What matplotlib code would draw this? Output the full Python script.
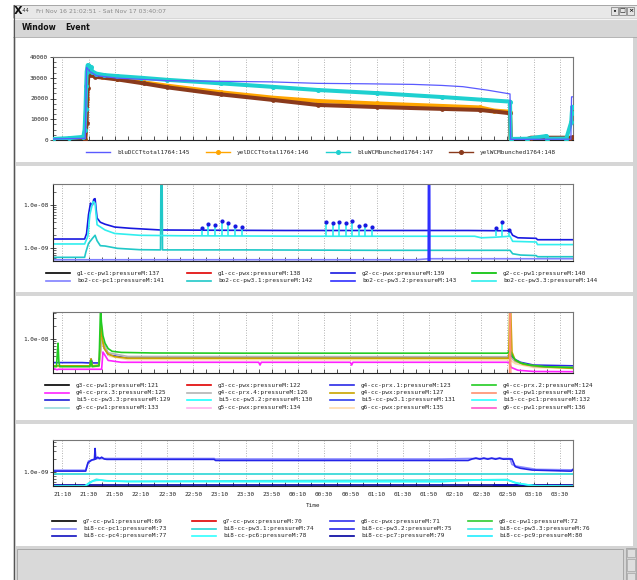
import numpy as np
import matplotlib
matplotlib.use('Agg')
import matplotlib.pyplot as plt
from matplotlib.patches import Rectangle
from matplotlib.lines import Line2D
from matplotlib.ticker import FixedLocator, FuncFormatter, LogLocator, NullFormatter, MultipleLocator

# time is in minutes after 21:00 on Nov 16
T0, T1 = 2.85, 400.12   # 21:02:51 .. 03:40:07

# ---- panel 1: beam intensity ----
p1_labels = ['bluDCCTtotal1764:145', 'yelDCCTtotal1764:146', 'bluWCMbunched1764:147', 'yelWCMbunched1764:148']
p1_colors = ['#5a5aff', '#ffa500', '#1ed0d0', '#8a3a1c']

blu_dcct_t = [2.85, 27.5, 28.5, 31, 36, 52, 90, 130, 170, 205, 240, 278, 300, 316, 335, 352, 352.5, 398.5, 399, 400.1]
blu_dcct_v = [500, 800, 35000, 33000, 31000, 29800, 28600, 28300, 28000, 27300, 27100, 26800, 26300, 25700, 24000, 22200, 300, 400, 20800, 20800]

yel_dcct_t = [2.85, 27, 28.5, 29.5, 30.5, 33, 40, 52, 72, 90, 131, 171, 205, 250, 300, 329, 340, 352, 352.5, 400]
yel_dcct_v = [300, 300, 20000, 34500, 33000, 31500, 30500, 29500, 27800, 26200, 23000, 20400, 18800, 17600, 16400, 15700, 14200, 13600, 300, 300]

blu_wcm_t = [2.85, 15, 26, 27, 27.7, 28.2, 28.6, 29.3, 30.2, 31.5, 33, 36, 42, 52, 70, 90, 131, 171, 205, 250, 300, 352,
             352.5, 365, 379.5, 380.5, 395, 398.8, 399.2, 399.6, 400]
blu_wcm_v = [500, 900, 1500, 5000, 15000, 26000, 33000, 36000, 35500, 35000, 33000, 32000, 31300, 30800, 30000, 29000, 27300, 25600, 24100, 22600, 20700, 18500,
             500, 600, 1900, 600, 700, 8700, 13000, 16000, 16000]

yel_wcm_t = [2.85, 27.5, 28.5, 29.3, 30, 31, 35, 52, 72, 90, 131, 171, 205, 250, 300, 329, 352, 352.5, 365, 368, 398, 400]
yel_wcm_v = [200, 200, 8000, 25000, 33400, 31500, 30500, 29200, 27300, 25400, 22000, 19300, 16900, 15900, 15000, 14500, 12900, 400, 400, 1100, 1100, 1300]

# ---- panel 2: vacuum sector 1-2 ----
p2_labels = ['g1-cc-pw1:pressureM:137', 'g1-cc-pwx:pressureM:138', 'g2-cc-pwx:pressureM:139', 'g2-cc-pw1:pressureM:140',
             'bo2-cc-pc1:pressureM:141', 'bo2-cc-pw3.1:pressureM:142', 'bo2-cc-pw3.2:pressureM:143', 'bo2-cc-pw3.3:pressureM:144']
p2_colors = ['#000000', '#e00000', '#1818e0', '#00c000', '#8080ff', '#20c8c8', '#3030ff', '#30eeee']

g2_pwx_t = [2.85, 27, 28.5, 30, 31.5, 33, 34, 35, 36.5, 39, 42.6, 50, 62, 85, 120, 150, 180, 210, 240, 270, 300, 320, 340, 352, 354, 358, 372, 373, 400]
g2_pwx_v = [1.64e-9, 1.64e-9, 2.2e-9, 6e-9, 1.1e-8, 1.0e-8, 1.35e-8, 1.4e-8, 5e-9, 4e-9, 3.6e-9, 3.1e-9, 2.9e-9, 2.65e-9, 2.62e-9,
            2.6e-9, 2.58e-9, 2.58e-9, 2.58e-9, 2.58e-9, 2.58e-9, 2.58e-9, 2.55e-9, 2.55e-9, 2.0e-9, 1.75e-9, 1.7e-9, 1.58e-9, 1.58e-9]

bo2_pc1_t = [2.85, 150, 280, 290, 400]
bo2_pc1_v = [5.45e-10, 5.45e-10, 5.45e-10, 5.75e-10, 5.75e-10]

bo2_pw31_t = [2.85, 27, 28, 30, 33, 35, 36.5, 39, 42.6, 52, 69, 85, 85.3, 86.2, 86.5, 150, 250, 340, 352, 354, 360, 372, 373, 400]
bo2_pw31_v = [6.2e-10, 6.2e-10, 8.3e-10, 1.3e-9, 1.7e-9, 2.0e-9, 1.5e-9, 1.15e-9, 1.13e-9, 1.0e-9, 0.93e-9, 0.92e-9, 5e-8, 5e-8,
              0.92e-9, 0.92e-9, 0.9e-9, 0.9e-9, 0.9e-9, 7.5e-10, 7e-10, 6.8e-10, 6.4e-10, 6.4e-10]

bo2_pw32_t = [2.85, 289.5, 289.7, 290.6, 290.8, 400]
bo2_pw32_v = [3e-10, 3e-10, 6e-8, 6e-8, 3e-10, 3e-10]

bo2_pw33_t = [2.85, 27, 29.5, 31, 33.4, 35, 36.5, 42.6, 50, 69, 100, 200, 300, 325, 330, 340, 352, 354, 372, 373, 400]
bo2_pw33_v = [1.26e-9, 1.26e-9, 1.9e-9, 6e-9, 1.2e-8, 1.1e-8, 3.5e-9, 2.65e-9, 2.2e-9, 2.0e-9, 1.95e-9, 1.9e-9, 1.9e-9, 1.9e-9,
              1.75e-9, 1.8e-9, 1.9e-9, 1.45e-9, 1.4e-9, 1.22e-9, 1.22e-9]
spike_t = [116.5, 121.5, 126.6, 131.7, 136.8, 141.9, 147.0, 211.4, 216.5, 221.6, 226.7, 231.3, 236.4, 241.4, 246.6, 341.1, 345.9, 351.2]
spike_v = [2.9e-9, 3.6e-9, 3.45e-9, 4.3e-9, 3.9e-9, 3.3e-9, 3.15e-9, 4.1e-9, 3.9e-9, 4.0e-9, 3.9e-9, 4.3e-9, 3.3e-9, 3.4e-9,
           3.15e-9, 2.9e-9, 4.0e-9, 2.65e-9]
spike_base = 1.9e-9

# ---- panel 3: vacuum sector 3-6 ----
p3_labels = ['g3-cc-pw1:pressureM:121', 'g3-cc-pwx:pressureM:122', 'g4-cc-prx.1:pressureM:123', 'g4-cc-prx.2:pressureM:124',
             'g4-cc-prx.3:pressureM:125', 'g4-cc-prx.4:pressureM:126', 'g4-cc-pwx:pressureM:127', 'g4-cc-pw1:pressureM:128',
             'bi5-cc-pw3.3:pressureM:129', 'bi5-cc-pw3.2:pressureM:130', 'bi5-cc-pw3.1:pressureM:131', 'bi5-cc-pc1:pressureM:132',
             'g5-cc-pw1:pressureM:133', 'g5-cc-pwx:pressureM:134', 'g6-cc-pwx:pressureM:135', 'g6-cc-pw1:pressureM:136']
p3_colors = ['#000000', '#e00000', '#2a2ae6', '#22cc22', '#ff22ff', '#b4b4b4', '#c8a400', '#ff9070',
             '#2020d8', '#20ffff', '#3040ee', '#30ffff', '#99dddd', '#ffb0ee', '#ffdcaa', '#ff55cc']

g4_prx2_t = [2.85, 5.5, 6.2, 6.7, 7.3, 8, 20, 31, 31.9, 32.8, 38, 39.2, 39.8, 41, 42.6, 45, 48, 55, 80, 150, 250, 350, 352, 354, 356, 360, 367, 379, 400]
g4_prx2_v = [2.3e-9, 2.3e-9, 5e-9, 8e-9, 3e-9, 2.3e-9, 2.3e-9, 2.3e-9, 3.2e-9, 2.3e-9, 2.4e-9, 6e-8, 2.5e-8, 1.2e-8, 8e-9, 6e-9,
             5.2e-9, 4.9e-9, 4.75e-9, 4.7e-9, 4.7e-9, 4.7e-9, 5.5e-9, 4e-9, 3.3e-9, 2.8e-9, 2.5e-9, 2.3e-9, 2.2e-9]

g4_pwx_t = [2.85, 25, 31, 31.9, 32.8, 38, 39.6, 40.5, 42, 45, 50, 60, 150, 250, 351, 351.8, 352.4, 353.5, 356, 362, 375, 400]
g4_pwx_v = [2.4e-9, 2.4e-9, 2.4e-9, 3.5e-9, 2.4e-9, 2.5e-9, 2.3e-8, 1.0e-8, 6e-9, 4.5e-9, 3.9e-9, 3.6e-9, 3.6e-9, 3.6e-9, 3.6e-9,
            6e-8, 6e-8, 5e-9, 3.2e-9, 2.6e-9, 2.3e-9, 2.1e-9]

g4_prx4_t = [2.85, 38, 40, 45, 60, 352, 356, 370, 400]
g4_prx4_v = [2.4e-9, 2.4e-9, 1e-8, 4.8e-9, 3.95e-9, 3.9e-9, 3.0e-9, 2.3e-9, 2.2e-9]

g6_pwx_t = [2.85, 38, 40, 46, 60, 352, 356, 370, 400]
g6_pwx_v = [2.3e-9, 2.3e-9, 8e-9, 4e-9, 3.35e-9, 3.3e-9, 2.7e-9, 2.2e-9, 2.1e-9]

g4_prx3_t = [2.85, 6, 7, 40, 41, 45, 55, 100, 160, 161, 162, 230, 231, 232, 300, 351, 353, 358, 370, 400]
g4_prx3_v = [2.1e-9, 1.95e-9, 2.0e-9, 2.0e-9, 5e-9, 3.2e-9, 2.9e-9, 2.9e-9, 2.9e-9, 2.5e-9, 2.9e-9, 2.9e-9, 2.5e-9, 2.9e-9,
             2.9e-9, 2.9e-9, 2.2e-9, 1.9e-9, 1.78e-9, 1.76e-9]

g4_prx1_t = [2.85, 25, 31, 32, 33, 38, 40, 45, 60, 350, 352, 354, 360, 370, 400]
g4_prx1_v = [2.85e-9, 2.85e-9, 2.8e-9, 3.4e-9, 2.8e-9, 2.8e-9, 8e-9, 4.3e-9, 3.6e-9, 3.6e-9, 4.5e-9, 3.6e-9, 2.9e-9, 2.5e-9, 2.4e-9]

g4_pw1_t = [2.85, 351.5, 351.8, 352.4, 352.7, 400]
g4_pw1_v = [1.2e-9, 1.2e-9, 6e-8, 6e-8, 1.2e-9, 1.2e-9]

# ---- panel 4: vacuum sector 7-8 ----
p4_labels = ['g7-cc-pw1:pressureM:69', 'g7-cc-pwx:pressureM:70', 'g8-cc-pwx:pressureM:71', 'g8-cc-pw1:pressureM:72',
             'bi8-cc-pc1:pressureM:73', 'bi8-cc-pw3.1:pressureM:74', 'bi8-cc-pw3.2:pressureM:75', 'bi8-cc-pw3.3:pressureM:76',
             'bi8-cc-pc4:pressureM:77', 'bi8-cc-pc6:pressureM:78', 'bi8-cc-pc7:pressureM:79', 'bi8-cc-pc9:pressureM:80']
p4_colors = ['#000000', '#e00000', '#3030ee', '#30cc30', '#8a8aff', '#2ad6d6', '#2424e8', '#40e8e8',
             '#1010c0', '#30ffff', '#0000a0', '#20eeff']

bi8_pw32_t = [2.85, 27.8, 29.6, 32.6, 34.5, 35, 35.5, 37, 38.5, 40, 42, 44, 60, 126, 127, 320, 323, 326, 329, 332, 335, 338,
              341, 344, 347, 350, 353.5, 356, 360, 369, 397, 399, 400.1]
bi8_pw32_v = [1.05e-9, 1.05e-9, 1.64e-9, 1.9e-9, 1.95e-9, 3.5e-9, 2.0e-9, 2.2e-9, 2.05e-9, 2.2e-9, 2.0e-9, 1.96e-9, 1.96e-9,
              1.96e-9, 1.85e-9, 1.85e-9, 2.0e-9, 2.1e-9, 1.98e-9, 2.1e-9, 1.98e-9, 2.1e-9, 1.98e-9, 2.1e-9, 1.98e-9, 2.0e-9,
              2.0e-9, 1.33e-9, 1.22e-9, 1.11e-9, 1.05e-9, 1.05e-9, 1.15e-9]

bi8_pc1_t = [2.85, 27.8, 30, 36, 126, 127, 300, 320, 352, 353.5, 356, 372, 400]
bi8_pc1_v = [1.1e-9, 1.1e-9, 1.8e-9, 2.05e-9, 2.05e-9, 2.0e-9, 2.0e-9, 2.05e-9, 2.05e-9, 1.5e-9, 1.38e-9, 1.15e-9, 1.12e-9]

bi8_pw31_t = [2.85, 400.1]
bi8_pw31_v = [0.89e-9, 0.89e-9]

bi8_pc6_t = [2.85, 27, 30, 33, 36, 40, 45, 60, 100, 200, 300, 310, 325, 350, 353, 358, 365, 372, 400]
bi8_pc6_v = [4.7e-10, 4.7e-10, 5.3e-10, 6.1e-10, 6.4e-10, 6.5e-10, 6.2e-10, 6.0e-10, 6.0e-10, 5.95e-10, 5.95e-10, 6.2e-10,
             6.5e-10, 6.5e-10, 6.1e-10, 5.5e-10, 5.1e-10, 4.8e-10, 4.7e-10]

bi8_pw33_t = [2.85, 27, 31, 36, 42, 60, 330, 350, 356, 370, 400]
bi8_pw33_v = [4.7e-10, 4.7e-10, 5.8e-10, 6.8e-10, 6.3e-10, 6.1e-10, 6.6e-10, 6.7e-10, 5.6e-10, 4.8e-10, 4.7e-10]

bi8_pc7_t = [2.85, 400.1]
bi8_pc7_v = [4.92e-10, 4.92e-10]

bi8_pc4_t = [2.85, 338, 340, 366, 368, 400]
bi8_pc4_v = [4e-10, 4e-10, 4.95e-10, 4.95e-10, 4e-10, 4e-10]

# ---------------------------------------------------------------
W, H = 637, 580
MONO = 'DejaVu Sans Mono'
SMALL = 4.3
plt.rcParams['font.family'] = MONO

fig = plt.figure(figsize=(W / 100, H / 100), dpi=100)


def fx(x):
    return x / W


def fy(y):
    return 1 - y / H


def box(x0, y0, x1, y1, fc, ec='none', lw=0.0, z=-5):
    fig.add_artist(Rectangle((fx(x0), fy(y1)), (x1 - x0) / W, (y1 - y0) / H,
                             transform=fig.transFigure, fc=fc, ec=ec, lw=lw, zorder=z))


def pxline(xs, ys, color, lw=0.8, z=-4):
    fig.add_artist(Line2D([fx(x) for x in xs], [fy(y) for y in ys], transform=fig.transFigure,
                          color=color, lw=lw, zorder=z))


def axes_at(x0, y0, x1, y1):
    return fig.add_axes([fx(x0), fy(y1), (x1 - x0) / W, (y1 - y0) / H])


def hhmm(m, pos=None):
    m = int(round(m))
    return '%02d:%02d' % ((21 + m // 60) % 24, m % 60)


def setup(ax, labels=False):
    ax.set_xlim(T0, T1)
    ax.xaxis.set_major_locator(FixedLocator(np.arange(10, 400, 20)))
    ax.xaxis.set_minor_locator(FixedLocator(np.arange(0, 401, 10)))
    ax.xaxis.set_major_formatter(FuncFormatter(hhmm))
    ax.tick_params(axis='x', which='both', direction='in', length=3, width=0.6, color='#333',
                   labelbottom=labels, labelsize=SMALL, labelcolor='#222', pad=4)
    ax.tick_params(axis='y', which='major', direction='inout', length=4, width=0.6, color='#333',
                   labelsize=SMALL, labelcolor='#222', pad=1.5)
    ax.tick_params(axis='y', which='minor', direction='in', length=2, width=0.5, color='#333')
    ax.grid(True, axis='x', which='major', color='#9a9a9a', linestyle=(0, (1, 2)), linewidth=0.6)
    ax.set_axisbelow(True)
    for s in ['top', 'right']:
        ax.spines[s].set_color('#777')
        ax.spines[s].set_linewidth(0.8)
    for s in ['left', 'bottom']:
        ax.spines[s].set_color('#222')
        ax.spines[s].set_linewidth(0.8)


def setup_log(ax, lo, hi):
    ax.set_yscale('log')
    ax.set_ylim(lo, hi)
    ax.yaxis.set_major_locator(LogLocator(base=10))
    ax.yaxis.set_major_formatter(FuncFormatter(lambda v, p: '%.1e' % v))
    ax.yaxis.set_minor_locator(LogLocator(base=10, subs=np.arange(2, 10)))
    ax.yaxis.set_minor_formatter(NullFormatter())


def legend_grid(labels, colors, text_x, row_y, markers=None, lw=1.2):
    for i, (lab, col) in enumerate(zip(labels, colors)):
        r, c = divmod(i, len(text_x))
        tx, y = text_x[c], row_y[r]
        pxline([tx - 31, tx - 7], [y, y], col, lw=lw, z=2)
        if markers and markers[i]:
            fig.add_artist(Line2D([fx(tx - 19)], [fy(y)], marker='o', ms=2.6, color=col,
                                  transform=fig.transFigure, zorder=3))
        fig.text(fx(tx), fy(y), lab, fontsize=SMALL, va='center', ha='left', color='#222')


# ---- window chrome ----
box(13, 5, 637, 18, '#e8e8e8', ec='#9a9a9a', lw=0.6)
box(13, 18, 637, 37, '#d6d6d6')
pxline([13, 637], [19, 19], '#f4f4f4', lw=0.8)
pxline([13, 637], [36.5, 36.5], '#a8a8a8', lw=0.6)
box(13, 37, 637, 546, 'white')
box(13, 37, 16, 546, '#d4d4d4')
box(633, 37, 637, 546, '#d4d4d4')
pxline([13.5, 13.5], [5, 580], '#555555', lw=0.8)
for y0 in [162, 292, 420]:
    box(16, y0, 633, y0 + 4, '#d6d6d6')
box(13, 546, 637, 580, '#d4d4d4')
box(17, 549, 623, 581, '#d9d9d9', ec='#a0a0a0', lw=0.6)
box(626, 548, 636, 581, '#d0d0d0', ec='#999999', lw=0.5)
box(627, 549, 635, 557, '#dedede', ec='#999999', lw=0.4)
box(627, 559, 635, 571, '#dedede', ec='#999999', lw=0.4)
box(627, 573, 635, 580, '#dedede', ec='#999999', lw=0.4)

fig.text(fx(14), fy(11.5), 'X', fontsize=8, fontweight='bold', family='DejaVu Sans', va='center', ha='left', color='#111')
fig.text(fx(21.5), fy(11), '-44', fontsize=3.4, family='DejaVu Sans', va='center', ha='left', color='#333')
fig.text(fx(36), fy(11.5), 'Fri Nov 16 21:02:51 - Sat Nov 17 03:40:07', fontsize=4.4, family='DejaVu Sans',
         va='center', ha='left', color='#8a8a8a')
for bx, glyph in zip([611, 619, 627], ['•', '□', '×']):
    box(bx, 7, bx + 7, 15, '#e4e4e4', ec='#777777', lw=0.5, z=-3)
    fig.text(fx(bx + 3.5), fy(11), glyph, fontsize=4.5, fontweight='bold', family='DejaVu Sans',
             va='center', ha='center', color='#111')
fig.text(fx(22), fy(28), 'Window', fontsize=5.6, fontweight='bold', family='DejaVu Sans', va='center', ha='left', color='#111')
fig.text(fx(65), fy(28), 'Event', fontsize=5.6, fontweight='bold', family='DejaVu Sans', va='center', ha='left', color='#111')

# ---- panel 1 ----
ax1 = axes_at(53, 57, 573, 140)
setup(ax1)
ax1.set_ylim(0, 40000)
ax1.yaxis.set_major_locator(FixedLocator([0, 10000, 20000, 30000, 40000]))
ax1.yaxis.set_major_formatter(FuncFormatter(lambda v, p: '%d' % v))
ax1.yaxis.set_minor_locator(MultipleLocator(2500))
ax1.plot(yel_dcct_t, yel_dcct_v, color=p1_colors[1], lw=2.9, marker='o', ms=2.4, zorder=2)
ax1.plot(yel_wcm_t, yel_wcm_v, color=p1_colors[3], lw=2.9, marker='o', ms=2.4, zorder=3)
ax1.plot(blu_wcm_t, blu_wcm_v, color=p1_colors[2], lw=2.9, marker='o', ms=2.6, zorder=4)
ax1.plot(blu_dcct_t, blu_dcct_v, color=p1_colors[0], lw=0.9, zorder=5)
legend_grid(p1_labels, p1_colors, [117, 237, 357, 480], [152], markers=[False, True, True, True], lw=1.0)

# ---- panel 2 ----
ax2 = axes_at(53, 184, 573, 261)
setup(ax2)
setup_log(ax2, 5.1e-10, 3.05e-8)
ax2.plot(bo2_pc1_t, bo2_pc1_v, color=p2_colors[4], lw=1.2)
ax2.plot(g2_pwx_t, g2_pwx_v, color=p2_colors[2], lw=1.2)
ax2.plot(bo2_pw31_t, bo2_pw31_v, color=p2_colors[5], lw=1.2)
ax2.plot(bo2_pw33_t, bo2_pw33_v, color=p2_colors[7], lw=1.2)
ax2.vlines(spike_t, spike_base, spike_v, color=p2_colors[7], lw=1.2)
ax2.plot(spike_t, spike_v, 'o', color=p2_colors[2], ms=2)
ax2.plot(bo2_pw32_t, bo2_pw32_v, color=p2_colors[6], lw=1.2)
legend_grid(p2_labels, p2_colors, [77, 218, 362, 503], [273, 280.5])

# ---- panel 3 ----
ax3 = axes_at(53, 312, 573, 373)
setup(ax3)
setup_log(ax3, 1.64e-9, 4.2e-8)
ax3.plot(g4_prx1_t, g4_prx1_v, color=p3_colors[2], lw=1.2)
ax3.plot(g4_prx3_t, g4_prx3_v, color=p3_colors[4], lw=1.2)
ax3.plot(g6_pwx_t, g6_pwx_v, color=p3_colors[14], lw=1.2)
ax3.plot(g4_prx4_t, g4_prx4_v, color=p3_colors[5], lw=1.2)
ax3.plot(g4_pwx_t, g4_pwx_v, color=p3_colors[6], lw=1.2)
ax3.plot(g4_prx2_t, g4_prx2_v, color=p3_colors[3], lw=1.2)
ax3.plot(g4_pw1_t, g4_pw1_v, color=p3_colors[7], lw=0.9)
legend_grid(p3_labels, p3_colors, [76, 218, 361, 503], [385, 392.5, 400, 407.5])

# ---- panel 4 ----
ax4 = axes_at(53, 440, 573, 486)
setup(ax4, labels=True)
setup_log(ax4, 4.75e-10, 5.5e-9)
ax4.plot(bi8_pc7_t, bi8_pc7_v, color=p4_colors[10], lw=1.2)
ax4.plot(bi8_pc4_t, bi8_pc4_v, color=p4_colors[8], lw=1.6)
ax4.plot(bi8_pw33_t, bi8_pw33_v, color=p4_colors[7], lw=1.2)
ax4.plot(bi8_pc6_t, bi8_pc6_v, color=p4_colors[9], lw=1.2)
ax4.plot(bi8_pw31_t, bi8_pw31_v, color=p4_colors[5], lw=1.2)
ax4.plot(bi8_pc1_t, bi8_pc1_v, color=p4_colors[4], lw=1.2)
ax4.plot(bi8_pw32_t, bi8_pw32_v, color=p4_colors[6], lw=1.2)
ax4.set_xlabel('Time', fontsize=SMALL, color='#222', labelpad=4.5)
legend_grid(p4_labels, p4_colors, [83, 223, 361, 499], [521, 528.5, 536])

fig.savefig('out.png', dpi=100, facecolor='white')
